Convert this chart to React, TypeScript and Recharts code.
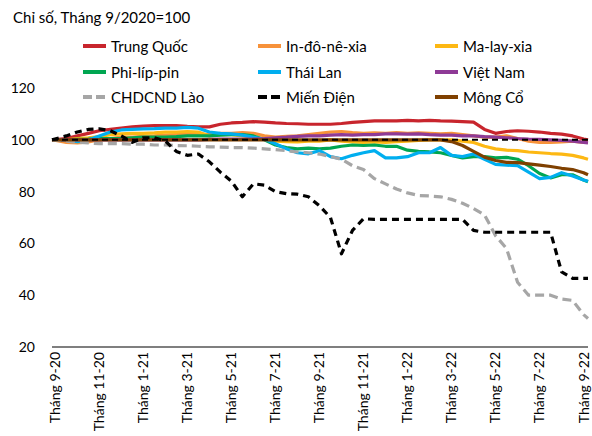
import React from "react";
import { LineChart, Line, XAxis, YAxis, ReferenceLine } from "recharts";

// months since Sep 2020
const months = [-0.15, 0.5, 1, 1.5, 2, 2.5, 3, 3.5, 4, 4.5, 5, 5.5, 6, 6.5, 7, 7.5, 8, 8.5, 9, 9.5, 10, 10.5, 11, 11.5, 12, 12.5, 13, 13.5, 14, 14.5, 15, 15.5, 16, 16.5, 17, 17.5, 18, 18.5, 19, 19.5, 20, 20.5, 21, 21.5, 22, 22.5, 23, 23.5, 24, 24.2];

const tickPositions = [0, 2, 4, 6, 8, 10, 12, 14, 16, 18, 20, 22, 24];
const tickLabels = ["Tháng 9-20", "Tháng 11-20", "Tháng 1-21", "Tháng 3-21", "Tháng 5-21", "Tháng 7-21", "Tháng 9-21", "Tháng 11-21", "Tháng 1-22", "Tháng 3-22", "Tháng 5-22", "Tháng 7-22", "Tháng 9-22"];
const yTicks = [20, 40, 60, 80, 100, 120];

const trungQuoc = [100, 100.5, 101.5, 102.5, 103.5, 104, 104.5, 105, 105.3, 105.5, 105.5, 105.5, 105.2, 105, 105, 106, 106.5, 106.7, 107, 106.8, 106.5, 106.3, 106.2, 106, 106, 106, 106.3, 106.7, 107, 107.3, 107.3, 107.3, 107.5, 107.3, 107.5, 107.3, 107.2, 107, 106.8, 104, 102.5, 103.2, 103.5, 103.3, 103, 102.5, 102.2, 101.5, 100.3, 100];
const indonesia = [100, 99, 98.8, 99.2, 100, 100.5, 101, 101, 101.3, 101.5, 101.8, 102, 102, 102.2, 102, 102.5, 102.5, 102.8, 102.5, 101.5, 101, 101.3, 101.5, 102, 102.5, 103, 103.2, 102.8, 102.5, 102.7, 102.5, 102.8, 102.5, 102.7, 102.5, 102.3, 102.5, 102, 101.5, 101, 101, 101.5, 100.5, 99.5, 99, 99, 99.2, 99.5, 99, 99];
const malaysia = [100, 100, 100.5, 100.8, 101.2, 102, 102.3, 102.5, 102.5, 102.7, 103, 103, 103.2, 103, 101.5, 102, 102, 101.5, 101, 100.3, 99.5, 99.3, 99.2, 99.5, 99.5, 100, 99.5, 99.2, 99, 99.2, 99, 99.3, 99.5, 99.8, 100, 100, 100, 99.5, 99, 97.5, 96.5, 96, 95.8, 95.3, 95, 94.7, 94.5, 94, 93, 92.5];
const philippines = [100, 100, 100.2, 100.3, 100.5, 100.5, 100.5, 100.8, 101, 101, 101, 101.2, 101.5, 101.5, 101.5, 101.8, 102, 102, 101.5, 100, 98, 97, 96.5, 96.8, 96.5, 96.8, 97.5, 98, 97.8, 98, 97.5, 97.5, 96, 95.5, 95.3, 95, 94, 93, 93.5, 93.5, 93, 93.2, 92.5, 90, 87, 85.3, 86.5, 86.5, 84.5, 83.8];
const thailand = [100, 100, 99.3, 100, 101.5, 103, 103.8, 104, 104.2, 104.3, 104.5, 104.5, 104.8, 104.5, 103, 102.5, 102.3, 101.8, 101, 100.2, 98.5, 96.5, 95, 94.6, 95.8, 93.5, 92.7, 94, 95, 95.8, 93, 93, 93.5, 95, 95, 97, 94, 93.5, 94.5, 92.5, 90.5, 90.2, 90, 87.5, 85, 85.5, 87.3, 86, 84.5, 84];
const vietnam = [100, 100, 100, 100, 100, 100, 100, 100, 100, 100, 100, 100, 100, 100, 100.2, 100.3, 100.3, 100.3, 100.3, 100.5, 100.8, 101, 101.3, 101.5, 101.5, 101.8, 102, 101.8, 102, 102, 102.3, 102.3, 102.2, 102.3, 102, 101.8, 101.8, 101.5, 101.5, 101.2, 101, 100.8, 100.5, 100.3, 100.2, 100, 99.8, 99.5, 99, 98.8];
const lao = [100, 99.5, 99, 98.8, 98.5, 98.5, 98.5, 98.3, 98.3, 98, 98, 97.8, 97.7, 97.5, 97.3, 97.2, 97, 97, 96.8, 96.5, 96.2, 95.8, 95.3, 95, 94.5, 93.5, 92.5, 90, 88.5, 85, 83, 81, 79.5, 78.5, 78.3, 78, 77, 75.5, 73.5, 71, 63, 58, 45, 40, 40, 40, 38.5, 38, 32.5, 31];
const myanmar = [100, 101.5, 103, 104, 104.2, 103.5, 101.5, 99, 100.8, 100.8, 99.5, 95.5, 94, 94.5, 91.5, 87.5, 84, 78, 83, 82.5, 80, 79.2, 79, 78, 74.5, 70, 56, 65, 69.5, 69.3, 69.3, 69.3, 69.3, 69.3, 69.3, 69.3, 69.3, 69.3, 65, 64.3, 64.3, 64.3, 64.3, 64.3, 64.3, 64.3, 49, 46.5, 46.5, 46.5];
const mongolia = [100, 100, 100, 100, 100, 100, 100, 100, 100, 100, 100, 100, 100, 100, 100, 100, 100, 100, 100, 100, 100, 100, 100, 100, 100, 100, 100, 100, 100, 100, 100, 100, 100, 100, 100, 100, 99.3, 97.8, 95.5, 93.3, 92, 91.3, 91.2, 90.7, 90.2, 89.7, 89, 88.5, 87.3, 86.5];

const seriesNames = ["Trung Quốc", "In-đô-nê-xia", "Ma-lay-xia", "Phi-líp-pin", "Thái Lan", "Việt Nam", "CHDCND Lào", "Miến Điện", "Mông Cổ"];
const seriesValues = [trungQuoc, indonesia, malaysia, philippines, thailand, vietnam, lao, myanmar, mongolia];
const seriesColors = ["#C8252D", "#F7923A", "#FDB813", "#00A651", "#00AEEF", "#8E3A96", "#A6A6A6", "#000000", "#7F4000"];
const seriesDash = ["", "", "", "", "", "", "9 5", "7 5", ""];

const data = months.map((m, i) => {
  const row: Record<string, number> = { m };
  seriesValues.forEach((vals, k) => {
    row["s" + k] = vals[i];
  });
  return row;
});

const FONT = "Lato, 'Open Sans', sans-serif";

// draw order (later = on top)
const drawOrder = [0, 1, 2, 3, 4, 5, 6, 8, 7];

const XTick = (props: any) => {
  const { x, y, payload } = props;
  const idx = tickPositions.indexOf(payload.value);
  return (
    <g transform={`translate(${x},${y})`}>
      <text transform="rotate(-90)" x={3} y={0} dy="0.35em" textAnchor="end" fill="#000" fontSize={14} fontFamily={FONT}>
        {idx >= 0 ? tickLabels[idx] : ""}
      </text>
    </g>
  );
};

const legendCols = [83, 258, 435];
const legendRows = [46, 72, 97];

export default function App() {
  return (
    <div style={{ position: "absolute", left: 0, top: 0, width: 592, height: 436, background: "#fff", fontFamily: FONT }}>
      <LineChart width={592} height={436} data={data} margin={{ top: 88, right: 4, bottom: 0, left: 0 }}>
        <XAxis
          dataKey="m"
          type="number"
          domain={[-0.15, 24.2]}
          ticks={tickPositions}
          interval={0}
          height={89}
          tickLine={false}
          axisLine={{ stroke: "#000", strokeWidth: 1.2 }}
          tick={<XTick />}
        />
        <YAxis
          width={52}
          domain={[20, 120]}
          ticks={yTicks}
          axisLine={false}
          tickLine={false}
          tickMargin={11}
          tick={{ fill: "#000", fontSize: 14, fontFamily: FONT }}
        />
        {drawOrder.map((k) => (
          <Line
            key={k}
            dataKey={"s" + k}
            name={seriesNames[k]}
            stroke={seriesColors[k]}
            strokeWidth={3.2}
            strokeDasharray={seriesDash[k] || undefined}
            dot={false}
            type="linear"
            strokeLinejoin="round"
            isAnimationActive={false}
          />
        ))}
        <ReferenceLine y={100} stroke="#000" strokeWidth={2} strokeDasharray="6 4" />
      </LineChart>
      <div style={{ position: "absolute", left: 13, top: 8, fontSize: 15, color: "#000", whiteSpace: "nowrap" }}>
        Chỉ số, Tháng 9/2020=100
      </div>
      {seriesNames.map((name, k) => {
        const col = k % 3;
        const row = Math.floor(k / 3);
        return (
          <div
            key={name}
            style={{
              position: "absolute",
              left: legendCols[col],
              top: legendRows[row] - 10,
              height: 20,
              display: "flex",
              alignItems: "center",
              whiteSpace: "nowrap",
              fontSize: 15,
              color: "#000",
            }}
          >
            <svg width={28} height={10} style={{ display: "block" }}>
              <line
                x1={0}
                x2={23}
                y1={5}
                y2={5}
                stroke={seriesColors[k]}
                strokeWidth={4}
                strokeDasharray={seriesDash[k] ? "9 4" : undefined}
              />
            </svg>
            <span>{name}</span>
          </div>
        );
      })}
    </div>
  );
}
